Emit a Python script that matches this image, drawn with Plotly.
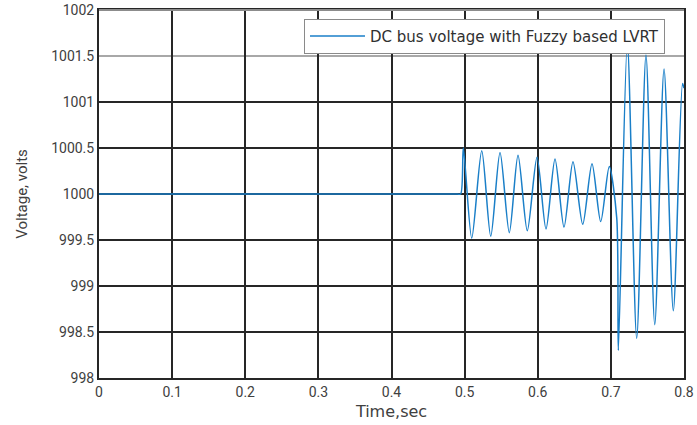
import plotly.graph_objects as go

# Time (s) and DC bus voltage (V) (peaks/troughs)
time_s = [0.0, 0.49, 0.4946, 0.4982, 0.5097, 0.5234, 0.5357, 0.5484, 0.5611, 0.573,
          0.5857, 0.599, 0.6113, 0.6236, 0.6359, 0.6482, 0.6615, 0.6742, 0.6861,
          0.6978, 0.708, 0.7102, 0.7225, 0.7353, 0.748, 0.760, 0.7727, 0.7854,
          0.798, 0.8]
voltage_v = [1000.0, 1000.0, 1000.0, 1000.5, 999.52, 1000.47, 999.54, 1000.45, 999.58, 1000.42,
             999.60, 1000.40, 999.62, 1000.38, 999.64, 1000.35, 999.67, 1000.33, 999.70,
             1000.30, 999.74, 998.30, 1001.65, 998.43, 1001.51, 998.58, 1001.36, 998.73,
             1001.2, 1001.15]

x_ticks = [0, 0.1, 0.2, 0.3, 0.4, 0.5, 0.6, 0.7, 0.8]
x_tick_labels = ["0", "0.1", "0.2", "0.3", "0.4", "0.5", "0.6", "0.7", "0.8"]
y_ticks = [998, 998.5, 999, 999.5, 1000, 1000.5, 1001, 1001.5, 1002]
y_tick_labels = ["998", "998.5", "999", "999.5", "1000", "1000.5", "1001", "1001.5", "1002"]
light_grid_value = 1001.5

fig = go.Figure()
fig.add_trace(go.Scatter(
    x=time_s, y=voltage_v, mode="lines",
    line=dict(color="#1a7fc8", width=1.5, shape="spline", smoothing=0.8),
    name="DC bus voltage with Fuzzy based LVRT",
))

grid_col = "#262626"
fig.update_layout(
    width=697, height=425,
    margin=dict(l=99, r=13, t=10, b=47),
    paper_bgcolor="white", plot_bgcolor="white",
    font=dict(family="Roboto, Liberation Sans, sans-serif", color="#404040", size=14),
    showlegend=True,
    legend=dict(
        x=0.9675, y=0.976, xanchor="right", yanchor="top",
        bgcolor="white", bordercolor="#8a8a8a", borderwidth=1,
        font=dict(family="DejaVu Sans", size=15, color="#303030"),
        itemwidth=55,
    ),
    xaxis=dict(
        range=[0, 0.8], tickvals=x_ticks, ticktext=x_tick_labels,
        showgrid=True, gridcolor=grid_col, gridwidth=2,
        showline=True, linecolor=grid_col, linewidth=2, mirror=True,
        zeroline=False, ticks="", ticklen=0, automargin=False,
        title=dict(text="Time,sec", font=dict(family="DejaVu Sans", size=16, color="#404040"), standoff=7),
    ),
    yaxis=dict(
        range=[998, 1002], tickvals=y_ticks, ticktext=y_tick_labels,
        showgrid=False,
        showline=True, linecolor=grid_col, linewidth=2, mirror=True,
        zeroline=False, ticks="", ticklen=0, automargin=False,
        title=dict(text="Voltage, volts", font=dict(size=15, color="#404040"), standoff=20),
    ),
)

# horizontal grid lines drawn from the tick list (1001.5 lighter, as in the reference)
for v in y_ticks[1:-1]:
    col = "#a8a8a8" if v == light_grid_value else grid_col
    fig.add_shape(type="line", xref="paper", yref="y", x0=0, x1=1, y0=v, y1=v,
                  line=dict(color=col, width=2), layer="below")
# lighter top border
fig.add_shape(type="line", xref="paper", yref="paper", x0=0, x1=1, y0=1, y1=1,
              line=dict(color="#8c8c8c", width=2), layer="above")

fig.write_html("out.html")
